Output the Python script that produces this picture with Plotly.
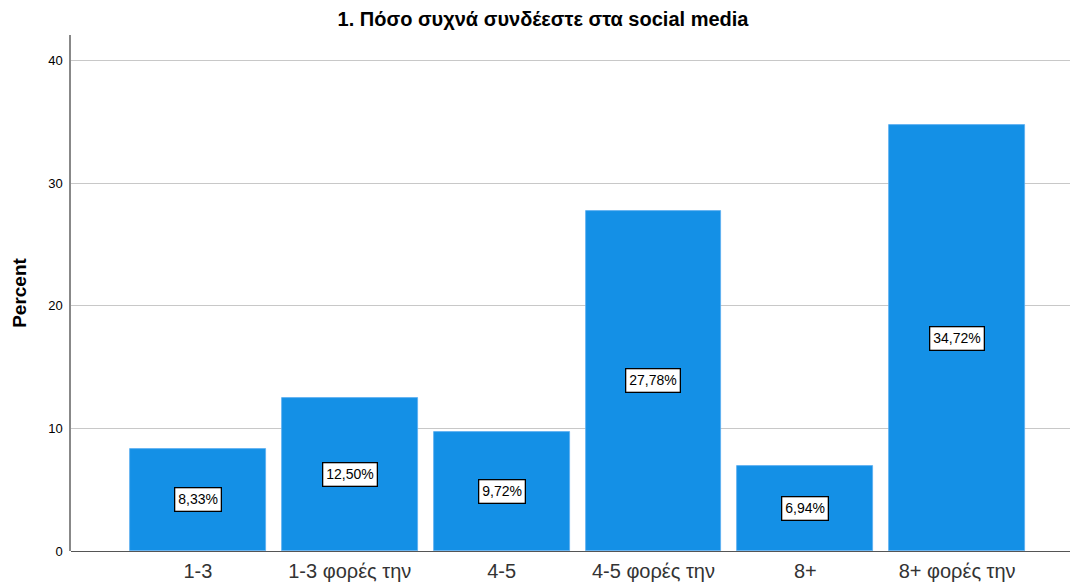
import plotly.graph_objects as go

categories = ["1-3", "1-3 φορές την", "4-5", "4-5 φορές την", "8+", "8+ φορές την"]
percents = [8.33, 12.50, 9.72, 27.78, 6.94, 34.72]
labels = ["8,33%", "12,50%", "9,72%", "27,78%", "6,94%", "34,72%"]
y_ticks = [0, 10, 20, 30, 40]

FONT = "Liberation Sans, Arial, sans-serif"
BAR_COLOR = "#1490e6"

fig = go.Figure()
fig.add_trace(go.Bar(
    x=list(range(len(categories))),
    y=percents,
    width=0.895,
    marker=dict(color=BAR_COLOR, line=dict(color="#5aaef0", width=0.8)),
    hoverinfo="skip",
))

annotations = []
for i, (v, lab) in enumerate(zip(percents, labels)):
    annotations.append(dict(
        x=i, y=v / 2, xref="x", yref="y", text=lab, showarrow=False,
        font=dict(family=FONT, size=14, color="#000000"),
        bgcolor="#ffffff", bordercolor="#000000", borderwidth=1.3, borderpad=3,
    ))

fig.update_layout(
    width=1070, height=578,
    margin=dict(l=63, r=0, t=27, b=35),
    paper_bgcolor="#ffffff", plot_bgcolor="#ffffff",
    showlegend=False,
    title=dict(text="<b>1. Πόσο συχνά συνδέεστε στα social media</b>",
               x=0.5, xref="container", xanchor="center",
               y=0.993, yref="container", yanchor="top", pad=dict(t=0, b=0),
               font=dict(family=FONT, size=20, color="#000000")),
    annotations=annotations,
    xaxis=dict(
        range=[-0.836, 5.796],
        tickmode="array", tickvals=list(range(len(categories))), ticktext=categories,
        tickfont=dict(family=FONT, size=20, color="#333333"),
        showgrid=False, zeroline=False, showline=False, ticks="",
        ticklabelstandoff=6,
        fixedrange=True,
    ),
    yaxis=dict(
        range=[0, 42.1],
        tickmode="array", tickvals=y_ticks, ticktext=[str(t) for t in y_ticks],
        tickfont=dict(family=FONT, size=13, color="#000000"),
        showgrid=True, gridcolor="#c8c8c8", gridwidth=1,
        zeroline=True, zerolinecolor="#555555", zerolinewidth=1.2,
        showline=True, linecolor="#888888", linewidth=1.5,
        ticks="", ticklen=0, ticklabelstandoff=4,
        title=dict(text="<b>Percent</b>", font=dict(family=FONT, size=19, color="#000000"), standoff=17),
    ),
    bargap=0,
)

fig.write_html("out.html")
